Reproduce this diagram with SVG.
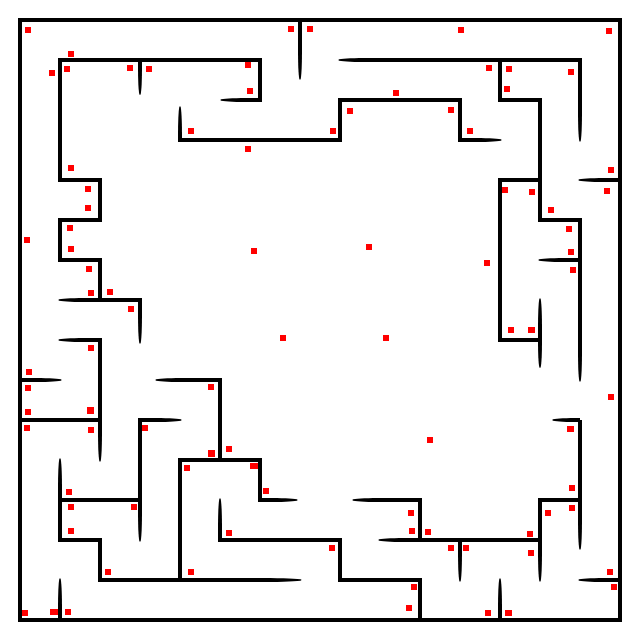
<svg xmlns="http://www.w3.org/2000/svg" xmlns:xlink="http://www.w3.org/1999/xlink" width="640" height="640" viewBox="0 0 640 640">
<style>
.w{fill:none;stroke:#000;stroke-width:4;stroke-linejoin:miter;stroke-linecap:butt}
.d{fill:#ff0000}
</style>
<defs>
<path id="tp" d="M0,-2 C16,-2 26,-1.6 31,-0.7 Q32.3,0 31,0.7 C26,1.6 16,2 0,2 Z" fill="#000"/>
</defs>
<rect x="0" y="0" width="640" height="640" fill="#fff"/>
<g id="walls">
<rect class="w" x="20" y="20" width="600" height="600"/>
<path class="w" d="M252,100 H260 V60 H60 V180 H100 V220 H60 V260 H100 V300"/>
<path class="w" d="M90,300 H140 V312"/>
<path class="w" d="M140,60 V65"/>
<path class="w" d="M300,20 V48"/>
<path class="w" d="M180,138 V140 H340 V100 H460 V140 H470"/>
<path class="w" d="M370,60 H580 V110"/>
<path class="w" d="M500,60 V100 H540 V220 H580 V350"/>
<path class="w" d="M540,180 H500 V340 H540"/>
<path class="w" d="M540,330 V340"/>
<path class="w" d="M620,180 H610"/>
<path class="w" d="M580,260 H570"/>
<path class="w" d="M580,420 V518"/>
<path class="w" d="M580,500 H540 V550"/>
<path class="w" d="M410,540 H540"/>
<path class="w" d="M384,500 H420 V540"/>
<path class="w" d="M460,540 V550"/>
<path class="w" d="M500,620 V610"/>
<path class="w" d="M620,580 H610"/>
<path class="w" d="M220,530 V540 H340 V580 H420 V620"/>
<path class="w" d="M90,340 H100 V430"/>
<path class="w" d="M20,380 H30"/>
<path class="w" d="M20,420 H100"/>
<path class="w" d="M187,380 H220 V460"/>
<path class="w" d="M180,580 V460 H260 V500 H266"/>
<path class="w" d="M150,420 H140 V510"/>
<path class="w" d="M60,500 H140"/>
<path class="w" d="M60,490 V540 H100 V580 H254"/>
<path class="w" d="M60,620 V610"/>
<use xlink:href="#tp" transform="translate(252,100) rotate(180)"/>
<use xlink:href="#tp" transform="translate(90,300) rotate(180)"/>
<use xlink:href="#tp" transform="translate(140,312) rotate(90)"/>
<use xlink:href="#tp" transform="translate(140,65) rotate(90) scale(0.94,1)"/>
<use xlink:href="#tp" transform="translate(300,48) rotate(90)"/>
<use xlink:href="#tp" transform="translate(180,138) rotate(-90)"/>
<use xlink:href="#tp" transform="translate(470,140)"/>
<use xlink:href="#tp" transform="translate(370,60) rotate(180)"/>
<use xlink:href="#tp" transform="translate(580,110) rotate(90)"/>
<use xlink:href="#tp" transform="translate(580,350) rotate(90)"/>
<use xlink:href="#tp" transform="translate(540,330) rotate(-90)"/>
<use xlink:href="#tp" transform="translate(540,340) rotate(90) scale(0.875,1)"/>
<use xlink:href="#tp" transform="translate(610,180) rotate(180)"/>
<use xlink:href="#tp" transform="translate(570,260) rotate(180)"/>
<use xlink:href="#tp" transform="translate(580,420) rotate(180) scale(0.875,1)"/>
<use xlink:href="#tp" transform="translate(580,518) rotate(90)"/>
<use xlink:href="#tp" transform="translate(540,550) rotate(90)"/>
<use xlink:href="#tp" transform="translate(410,540) rotate(180)"/>
<use xlink:href="#tp" transform="translate(384,500) rotate(180)"/>
<use xlink:href="#tp" transform="translate(460,550) rotate(90)"/>
<use xlink:href="#tp" transform="translate(500,610) rotate(-90)"/>
<use xlink:href="#tp" transform="translate(610,580) rotate(180)"/>
<use xlink:href="#tp" transform="translate(220,530) rotate(-90)"/>
<use xlink:href="#tp" transform="translate(90,340) rotate(180)"/>
<use xlink:href="#tp" transform="translate(100,430) rotate(90)"/>
<use xlink:href="#tp" transform="translate(30,380)"/>
<use xlink:href="#tp" transform="translate(187,380) rotate(180)"/>
<use xlink:href="#tp" transform="translate(266,500)"/>
<use xlink:href="#tp" transform="translate(150,420)"/>
<use xlink:href="#tp" transform="translate(140,510) rotate(90)"/>
<use xlink:href="#tp" transform="translate(60,490) rotate(-90)"/>
<use xlink:href="#tp" transform="translate(254,580) scale(1.5,1)"/>
<use xlink:href="#tp" transform="translate(60,610) rotate(-90)"/>
</g>
<g id="dots">
<rect class="d" x="25" y="27" width="6" height="6"/>
<rect class="d" x="288" y="26" width="6" height="6"/>
<rect class="d" x="307" y="26" width="6" height="6"/>
<rect class="d" x="68" y="51" width="6" height="6"/>
<rect class="d" x="49" y="70" width="6" height="6"/>
<rect class="d" x="64" y="66" width="6" height="6"/>
<rect class="d" x="127" y="65" width="6" height="6"/>
<rect class="d" x="146" y="66" width="6" height="6"/>
<rect class="d" x="245" y="62" width="6" height="6"/>
<rect class="d" x="247" y="88" width="6" height="6"/>
<rect class="d" x="188" y="128" width="6" height="6"/>
<rect class="d" x="245" y="146" width="6" height="6"/>
<rect class="d" x="68" y="165" width="6" height="6"/>
<rect class="d" x="85" y="186" width="6" height="6"/>
<rect class="d" x="85" y="205" width="6" height="6"/>
<rect class="d" x="67" y="225" width="6" height="6"/>
<rect class="d" x="24" y="237" width="6" height="6"/>
<rect class="d" x="68" y="246" width="6" height="6"/>
<rect class="d" x="86" y="266" width="6" height="6"/>
<rect class="d" x="251" y="248" width="6" height="6"/>
<rect class="d" x="88" y="290" width="6" height="6"/>
<rect class="d" x="107" y="289" width="6" height="6"/>
<rect class="d" x="128" y="306" width="6" height="6"/>
<rect class="d" x="458" y="27" width="6" height="6"/>
<rect class="d" x="606" y="28" width="6" height="6"/>
<rect class="d" x="486" y="65" width="6" height="6"/>
<rect class="d" x="506" y="66" width="6" height="6"/>
<rect class="d" x="568" y="69" width="6" height="6"/>
<rect class="d" x="504" y="86" width="6" height="6"/>
<rect class="d" x="393" y="90" width="6" height="6"/>
<rect class="d" x="347" y="108" width="6" height="6"/>
<rect class="d" x="448" y="107" width="6" height="6"/>
<rect class="d" x="330" y="128" width="6" height="6"/>
<rect class="d" x="467" y="128" width="6" height="6"/>
<rect class="d" x="608" y="167" width="6" height="6"/>
<rect class="d" x="604" y="188" width="6" height="6"/>
<rect class="d" x="502" y="187" width="6" height="6"/>
<rect class="d" x="529" y="189" width="6" height="6"/>
<rect class="d" x="548" y="207" width="6" height="6"/>
<rect class="d" x="566" y="226" width="6" height="6"/>
<rect class="d" x="568" y="249" width="6" height="6"/>
<rect class="d" x="570" y="267" width="6" height="6"/>
<rect class="d" x="366" y="244" width="6" height="6"/>
<rect class="d" x="484" y="260" width="6" height="6"/>
<rect class="d" x="280" y="335" width="6" height="6"/>
<rect class="d" x="88" y="345" width="6" height="6"/>
<rect class="d" x="26" y="369" width="6" height="6"/>
<rect class="d" x="25" y="385" width="6" height="6"/>
<rect class="d" x="25" y="409" width="6" height="6"/>
<rect class="d" x="87" y="407" width="7" height="7"/>
<rect class="d" x="208" y="384" width="6" height="6"/>
<rect class="d" x="24" y="425" width="6" height="6"/>
<rect class="d" x="88" y="427" width="6" height="6"/>
<rect class="d" x="142" y="425" width="6" height="6"/>
<rect class="d" x="208" y="450" width="7" height="7"/>
<rect class="d" x="226" y="446" width="6" height="6"/>
<rect class="d" x="184" y="465" width="6" height="6"/>
<rect class="d" x="250" y="463" width="8" height="6"/>
<rect class="d" x="66" y="489" width="6" height="6"/>
<rect class="d" x="263" y="488" width="6" height="6"/>
<rect class="d" x="68" y="504" width="6" height="6"/>
<rect class="d" x="131" y="504" width="6" height="6"/>
<rect class="d" x="68" y="528" width="6" height="6"/>
<rect class="d" x="226" y="530" width="6" height="6"/>
<rect class="d" x="105" y="569" width="6" height="6"/>
<rect class="d" x="188" y="569" width="6" height="6"/>
<rect class="d" x="22" y="610" width="6" height="6"/>
<rect class="d" x="50" y="609" width="8" height="6"/>
<rect class="d" x="65" y="609" width="6" height="6"/>
<rect class="d" x="508" y="327" width="6" height="6"/>
<rect class="d" x="528" y="327" width="7" height="6"/>
<rect class="d" x="383" y="335" width="6" height="6"/>
<rect class="d" x="608" y="394" width="6" height="6"/>
<rect class="d" x="567" y="426" width="7" height="6"/>
<rect class="d" x="427" y="437" width="6" height="6"/>
<rect class="d" x="569" y="485" width="6" height="6"/>
<rect class="d" x="569" y="505" width="6" height="6"/>
<rect class="d" x="545" y="510" width="6" height="6"/>
<rect class="d" x="408" y="510" width="6" height="6"/>
<rect class="d" x="409" y="528" width="6" height="6"/>
<rect class="d" x="425" y="529" width="6" height="6"/>
<rect class="d" x="527" y="531" width="6" height="6"/>
<rect class="d" x="329" y="545" width="6" height="6"/>
<rect class="d" x="448" y="545" width="6" height="6"/>
<rect class="d" x="463" y="545" width="6" height="6"/>
<rect class="d" x="528" y="550" width="6" height="6"/>
<rect class="d" x="607" y="569" width="6" height="6"/>
<rect class="d" x="611" y="584" width="6" height="6"/>
<rect class="d" x="411" y="584" width="6" height="6"/>
<rect class="d" x="406" y="605" width="6" height="6"/>
<rect class="d" x="485" y="610" width="6" height="6"/>
<rect class="d" x="505" y="610" width="7" height="6"/>
</g>
</svg>
